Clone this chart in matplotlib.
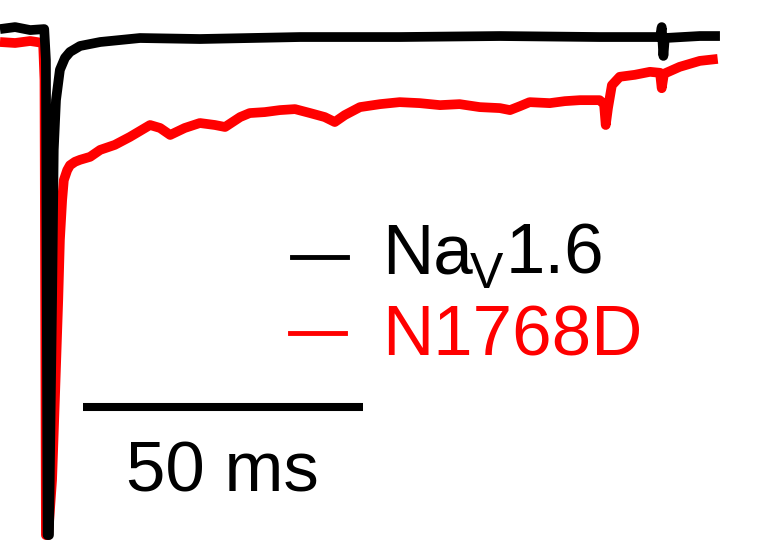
import matplotlib
matplotlib.use('Agg')
import matplotlib.pyplot as plt

plt.rcParams['font.family'] = ['Liberation Sans', 'DejaVu Sans']

# 时间 (ms) 与归一化电流
t_wt = [0, 2.7, 5.4, 7.9, 8.2, 8.5, 8.75, 9.3, 9.6, 10.0, 10.7, 11.6, 12.5, 14.3, 17.9,
        25.0, 35.7, 53.6, 71.4, 89.3, 107.1, 117.9, 118.2, 118.5, 118.75, 125.0, 128.6]
i_wt = [0.018, 0.022, 0.016, 0.018, -0.044, -1.0, -1.0, -0.527, -0.225, -0.125, -0.064,
        -0.040, -0.028, -0.016, -0.008, 0.0, -0.002, 0.002, 0.002, 0.004, 0.002, 0.002,
        0.022, -0.036, 0.0, 0.004, 0.004]

t_mut = [0, 2.7, 5.4, 7.7, 7.95, 8.2, 8.6, 9.3, 9.8, 10.4, 10.7, 11.1, 11.4, 12.0, 12.5,
         13.4, 14.3, 16.1, 17.9, 20.5, 23.2, 25.9, 26.8, 28.6, 30.4, 33.0, 35.7, 38.4,
         40.2, 42.9, 44.6, 47.3, 50.0, 52.7, 55.4, 58.0, 59.8, 61.6, 64.3, 67.9, 71.4,
         75.0, 78.6, 82.1, 85.7, 89.3, 91.1, 92.9, 94.6, 98.2, 100.9, 103.6, 107.1, 107.9,
         108.2, 108.6, 109.3, 110.7, 113.4, 116.1, 117.9, 118.2, 118.6, 121.4, 125.0, 128.2]
i_mut = [-0.008, -0.010, -0.006, -0.010, -0.085, -1.0, -1.0, -0.889, -0.728, -0.527,
         -0.406, -0.326, -0.286, -0.266, -0.256, -0.249, -0.245, -0.239, -0.225, -0.215,
         -0.199, -0.181, -0.175, -0.181, -0.195, -0.181, -0.171, -0.175, -0.179, -0.159,
         -0.151, -0.149, -0.145, -0.143, -0.151, -0.159, -0.169, -0.155, -0.139, -0.133,
         -0.129, -0.131, -0.135, -0.133, -0.139, -0.141, -0.145, -0.137, -0.129, -0.131,
         -0.127, -0.125, -0.125, -0.133, -0.175, -0.141, -0.095, -0.078, -0.074, -0.068,
         -0.070, -0.101, -0.072, -0.058, -0.046, -0.042]

colors = ['black', '#ff0000']
scale_ms = 50

fig = plt.figure(figsize=(7.58, 5.51), dpi=100)
ax = fig.add_axes([0, 0, 1, 1])
ax.set_xlim(0, 135.4)
ax.set_ylim(-1.032, 0.0765)
ax.axis('off')

ax.plot(t_mut, i_mut, color=colors[1], lw=7, solid_joinstyle='round', solid_capstyle='butt')
ax.plot(t_wt, i_wt, color=colors[0], lw=7, solid_joinstyle='round', solid_capstyle='butt')

# 图例
ax.plot([52.1, 62.0], [-0.441, -0.441], color=colors[0], lw=3.5)
ax.plot([51.8, 61.6], [-0.594, -0.594], color=colors[1], lw=3.5)
ax.text(68.2, -0.473, 'Na', color=colors[0], fontsize=51, va='baseline')
ax.text(84.0, -0.503, 'V', color=colors[0], fontsize=36, va='baseline')
ax.text(90.3, -0.473, '1.6', color=colors[0], fontsize=51, va='baseline')
ax.text(68.2, -0.638, 'N1768D', color=colors[1], fontsize=51, va='baseline')

# 时间标尺
x0 = 14.8
ax.plot([x0, x0 + scale_ms], [-0.742, -0.742], color='black', lw=5.8, solid_capstyle='butt')
ax.text(x0 + scale_ms / 2, -0.913, f'{scale_ms} ms', fontsize=51, ha='center', va='baseline')

fig.savefig('out.png', dpi=100)
